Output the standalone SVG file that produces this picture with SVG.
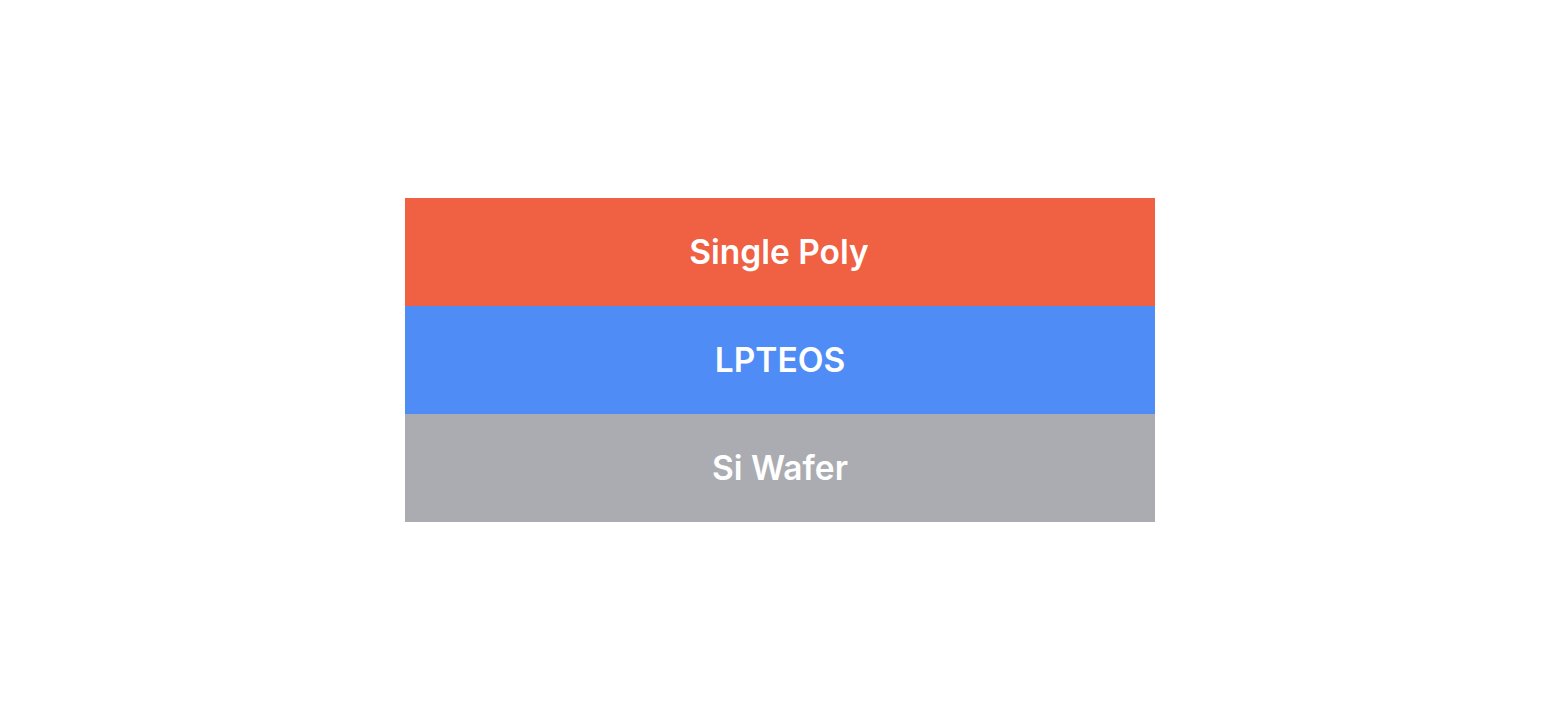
<svg xmlns="http://www.w3.org/2000/svg" width="1560" height="720" viewBox="0 0 1560 720">
<style>
.lbl{font-family:Inter,"Noto Sans","Liberation Sans",sans-serif;font-size:33.5px;font-weight:600;fill:#ffffff;text-anchor:middle;dominant-baseline:central}
</style>
<rect width="1560" height="720" fill="#ffffff"/>
<g id="single-poly">
<rect x="405" y="198" width="750" height="108" fill="#f06043"/>
<text class="lbl" x="779" y="252">Single Poly</text>
</g>
<g id="lpteos">
<rect x="405" y="306" width="750" height="108" fill="#508cf5"/>
<text class="lbl" x="780" y="360">LPTEOS</text>
</g>
<g id="si-wafer">
<rect x="405" y="414" width="750" height="108" fill="#abacb1"/>
<text class="lbl" x="780" y="468">Si Wafer</text>
</g>
<g id="connectors"/>
</svg>
